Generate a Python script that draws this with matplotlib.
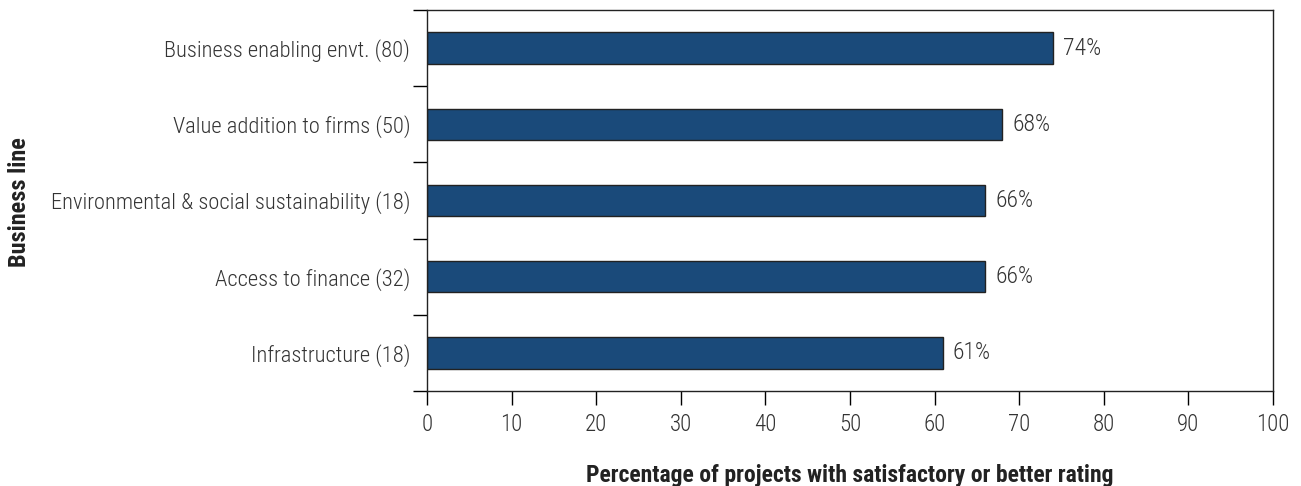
import matplotlib
matplotlib.use("Agg")
import matplotlib.pyplot as plt
from matplotlib import font_manager

categories = [
    "Business enabling envt. (80)",
    "Value addition to firms (50)",
    "Environmental & social sustainability (18)",
    "Access to finance (32)",
    "Infrastructure (18)",
]
values = [74, 68, 66, 66, 61]
x_ticks = [0, 10, 20, 30, 40, 50, 60, 70, 80, 90, 100]

# condensed face like the original; fall back if missing
names = {f.name for f in font_manager.fontManager.ttflist}
family = "DejaVu Sans"
for cand in ["Roboto Condensed", "PT Sans Narrow", "IBM Plex Sans Condensed", "Liberation Sans Narrow"]:
    if cand in names:
        family = cand
        break
plt.rcParams["font.family"] = [family, "DejaVu Sans"]

text_color = "#333333"
bar_color = "#1a4a7a"
light = "light" if family == "Roboto Condensed" else "normal"

fig = plt.figure(figsize=(13.01, 4.86), dpi=100)
ax = fig.add_axes([427 / 1301, 1 - 391 / 486, 846 / 1301, 381 / 486])

pos = list(range(len(categories)))
ax.barh(pos, values, height=0.41, color=bar_color, edgecolor="#222222", linewidth=1)
for p, v in zip(pos, values):
    ax.annotate(f"{v}%", (v, p), xytext=(7, 0), textcoords="offset points",
                va="center", ha="left", fontsize=17, color=text_color, fontweight=light)

ax.set_xlim(0, 100)
ax.set_ylim(len(categories) - 0.5, -0.5)
ax.set_xticks(x_ticks)
ax.set_xticklabels([str(t) for t in x_ticks], fontsize=16.5, color=text_color, fontweight=light)

# labels at bar centres, tick marks between categories
ax.set_yticks(pos)
ax.set_yticklabels(categories, fontsize=16.2, color=text_color, fontweight=light)
ax.tick_params(axis="y", which="major", length=0, pad=12)
ax.set_yticks([p - 0.5 for p in pos] + [len(categories) - 0.5], minor=True)
ax.tick_params(axis="y", which="minor", length=10, width=1, direction="out")
ax.tick_params(axis="x", length=10, width=1, direction="out", pad=6)

for s in ax.spines.values():
    s.set_linewidth(1)
    s.set_color("#222222")

ax.set_xlabel("Percentage of projects with satisfactory or better rating",
              fontsize=17, fontweight="bold", color="#222222", labelpad=20)
fig.text(20 / 1301, 1 - 202 / 486, "Business line", rotation=90, ha="center", va="center",
         fontsize=17.5, fontweight="bold", color="#222222")

fig.savefig("out.png", dpi=100)
